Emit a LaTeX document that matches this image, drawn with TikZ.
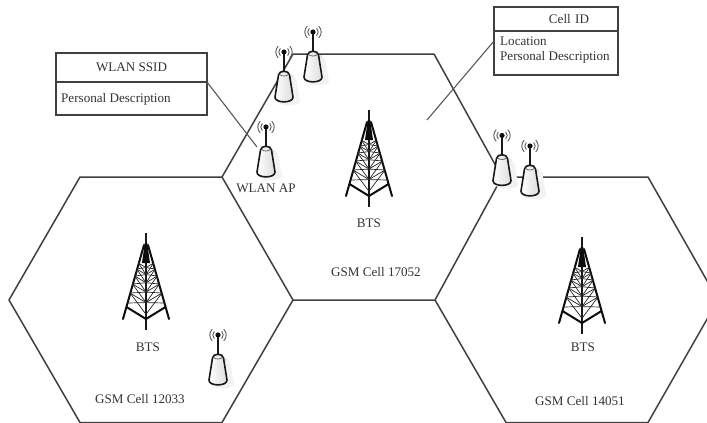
\documentclass[tikz,border=0pt]{standalone}
\usepackage{fontspec}
\setmainfont{Liberation Serif}
\usetikzlibrary{calc}
\definecolor{inkline}{gray}{0.25}
\definecolor{inktext}{gray}{0.2}
\tikzset{
  hexline/.style={draw=inkline,line width=1.5pt,line join=miter},
  leader/.style={draw=black!65,line width=1.1pt},
  lbl/.style={text=inktext,font=\fontsize{13.1}{15}\selectfont,inner sep=0pt,anchor=center},
  lblleft/.style={lbl,anchor=west},
  boxpart/.style={draw=inkline,line width=1.1pt,fill=white,inner sep=0pt,outer sep=0pt,minimum width=#1},
  apunit/.pic={
    \fill[black!10] (-5,-1) -- (4,-27) -- (9,-27) -- (14,-3) .. controls (14,3) and (-3,3) .. (-5,-1) -- cycle;
    \fill[black!5] (-6,0) -- (6,-24) -- (12,-24) -- (16,-1) .. controls (16,4) and (-4,5) .. (-6,0) -- cycle;
    \draw[line width=1.6pt,black!90,left color=white,right color=black!14]
      (-9,-5) -- (-5.5,-27) .. controls (-5,-32) and (5,-32) .. (5.5,-27) -- (9,-5)
      .. controls (9.5,1.5) and (-9.5,1.5) .. (-9,-5) -- cycle;
    \draw[line width=.8pt,black!60] (-4.5,-27.5) .. controls (-2,-25.5) and (2,-25.5) .. (4.5,-27.5);
    \draw[line width=1.7pt,black!90] (0,-31) -- (0,-48);
    \fill[black!95] (0,-50) circle[radius=2.6];
    \foreach \r in {5.2,8.2}{
      \draw[black!65,line width=.9pt] (0,-50)+(135:\r) arc[start angle=135,end angle=225,radius=\r];
      \draw[black!65,line width=.9pt] (0,-50)+(45:\r) arc[start angle=45,end angle=-45,radius=\r];
    }
  },
  towerunit/.pic={
    \draw[line width=1.7pt,black!90] (0,0) -- (0,97);
    \fill[black!95] (-1.2,10) -- (1.2,10) -- (4,30) -- (-4,30) -- cycle;
    \draw[line width=2pt,black!95,line cap=round] (-2,12) -- (-23,86);
    \draw[line width=2pt,black!95,line cap=round] (2,12) -- (23,86);
    \draw[line width=2pt,black!95] (-19.5,74) -- (0,86) -- (19.5,74);
    \foreach \a/\b in {30/36,36/43,43/51,51/60,60/70}{
      \pgfmathsetmacro{\wa}{2+(\a-10)*21/75}
      \pgfmathsetmacro{\wb}{2+(\b-10)*21/75}
      \pgfmathsetmacro{\da}{\a+\wa*0.6}
      \pgfmathsetmacro{\db}{\b+\wb*0.6}
      \draw[line width=.7pt,black!85] (-\wa,\a) -- (0,\da) -- (\wa,\a);
      \draw[line width=.7pt,black!85] (-\wa,\a) -- (0,\db) -- (\wa,\a);
      \draw[line width=.7pt,black!85] (-\wb,\b) -- (0,\da) -- (\wb,\b);
    }
  }
}
\begin{document}
\begin{tikzpicture}[x=1pt,y=-1pt]
\useasboundingbox (0,0) rectangle (707,423);
\clip (0,0) rectangle (707,423);
\fill[white] (0,0) rectangle (707,423);
% cells
\coordinate (ca) at (293,54);
\coordinate (cb) at (434,54);
\coordinate (cc) at (502,177);
\coordinate (cd) at (435,300);
\coordinate (ce) at (293,300);
\coordinate (cf) at (222,177);
\draw[hexline] (ca) -- (cb) -- (cc) -- (cd) -- (ce) -- (cf) -- cycle;
\coordinate (la) at (80,177);
\coordinate (lb) at (9,300);
\coordinate (lc) at (80,422.5);
\coordinate (ld) at (222,422.5);
\draw[hexline] (cf) -- (la) -- (lb) -- (lc) -- (ld) -- (ce);
\coordinate (ra) at (648,177);
\coordinate (rb) at (718,300);
\coordinate (rc) at (648,422.5);
\coordinate (rd) at (506,422.5);
\draw[hexline] (cc) -- (ra) -- (rb) -- (rc) -- (rd) -- (cd);
% info boxes
\node[boxpart=151pt,minimum height=29pt,lbl,draw=inkline,anchor=north west] (wlanhead) at (56,53) {WLAN SSID};
\node[boxpart=151pt,minimum height=33pt,draw=inkline,anchor=north west] (wlanbody) at (56,82) {};
\node[lblleft] (wlandesc) at (61,99) {Personal Description};
\node[boxpart=124pt,minimum height=24pt,lbl,draw=inkline,anchor=north west,text width=124pt,align=center] (cellhead) at (494,7) {\hspace*{26pt}Cell ID};
\node[boxpart=124pt,minimum height=44pt,draw=inkline,anchor=north west] (cellbody) at (494,31) {};
\node[lblleft] (cellloc) at (500,41) {Location};
\node[lblleft] (celldesc) at (500,57) {Personal Description};
% leaders
\coordinate (wlanend) at (257,147);
\coordinate (cellstart) at (494,41);
\coordinate (cellend) at (427,120);
\draw[leader] (wlanhead.south east) -- (wlanend);
\draw[leader] (cellstart) -- (cellend);
% access points
\pic (ap1) at (284,102) {apunit};
\pic (ap2) at (313,82) {apunit};
\pic (ap3) at (266,177) {apunit};
\pic (ap4) at (502,185.5) {apunit};
\pic (ap5) at (530,196) {apunit};
\pic (ap6) at (218,385) {apunit};
% towers
\pic (t1) at (369,110) {towerunit};
\pic (t2) at (146,233) {towerunit};
\pic (t3) at (582,237) {towerunit};
% labels
\node[lbl] (lapname) at (266,188) {WLAN AP};
\node[lbl] (b1) at (369,223) {BTS};
\node[lbl] (b2) at (148,347) {BTS};
\node[lbl] (b3) at (583,347) {BTS};
\node[lbl] (g1) at (376,272) {GSM Cell 17052};
\node[lbl] (g2) at (140,399) {GSM Cell 12033};
\node[lbl] (g3) at (580,401) {GSM Cell 14051};
\end{tikzpicture}
\end{document}
